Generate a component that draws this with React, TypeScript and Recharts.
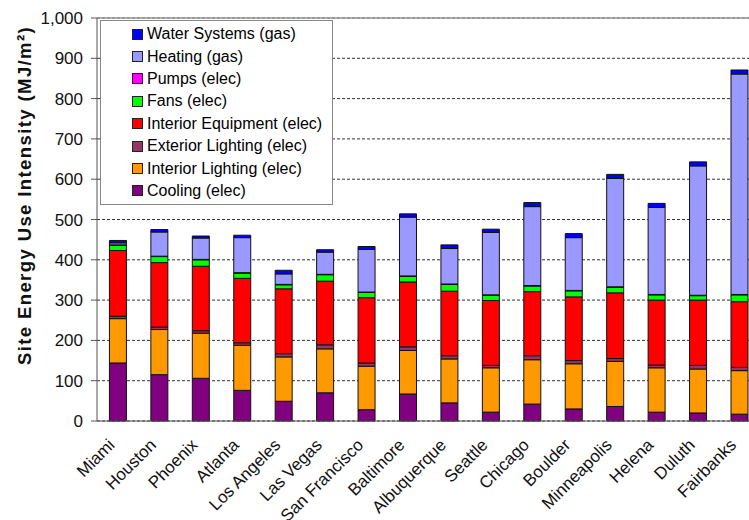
import { BarChart, Bar, XAxis, YAxis, CartesianGrid, ReferenceLine, Legend, Label } from 'recharts'

const cities = [
  'Miami', 'Houston', 'Phoenix', 'Atlanta', 'Los Angeles', 'Las Vegas', 'San Francisco', 'Baltimore',
  'Albuquerque', 'Seattle', 'Chicago', 'Boulder', 'Minneapolis', 'Helena', 'Duluth', 'Fairbanks',
]

// MJ/m2 per end use, stacked bottom to top
const cooling = [144, 115, 106, 76, 49, 70, 28, 67, 45, 22, 42, 30, 36, 22, 20, 17]
const interiorLighting = [110, 112, 112, 112, 110, 109, 108, 108, 109, 110, 110, 112, 112, 110, 109, 108]
const exteriorLighting = [6, 6, 6, 6, 8, 10, 8, 9, 8, 6, 10, 8, 7, 7, 9, 8]
const interiorEquipment = [163, 160, 160, 160, 161, 158, 162, 161, 160, 161, 159, 158, 163, 161, 162, 163]
const fans = [13, 15, 16, 13, 10, 16, 13, 14, 17, 13, 14, 15, 14, 13, 11, 17]
const pumps = [1, 1, 1, 1, 1, 1, 1, 1, 1, 1, 1, 1, 1, 1, 1, 1]
const heating = [5, 60, 53, 87, 26, 55, 106, 146, 88, 155, 196, 131, 269, 216, 321, 547]
const waterSystems = [6, 6, 5, 6, 9, 6, 7, 8, 9, 8, 10, 10, 10, 10, 10, 10]

const yTicks = [0, 100, 200, 300, 400, 500, 600, 700, 800, 900, 1000]

const series = [
  { key: 'cooling', name: 'Cooling (elec)', color: '#800080', values: cooling },
  { key: 'interiorLighting', name: 'Interior Lighting (elec)', color: '#FF9900', values: interiorLighting },
  { key: 'exteriorLighting', name: 'Exterior Lighting (elec)', color: '#993366', values: exteriorLighting },
  { key: 'interiorEquipment', name: 'Interior Equipment (elec)', color: '#FF0000', values: interiorEquipment },
  { key: 'fans', name: 'Fans (elec)', color: '#00FF00', values: fans },
  { key: 'pumps', name: 'Pumps (elec)', color: '#FF00FF', values: pumps },
  { key: 'heating', name: 'Heating (gas)', color: '#9999FF', values: heating },
  { key: 'waterSystems', name: 'Water Systems (gas)', color: '#0000FF', values: waterSystems },
]

const data = cities.map((city, i) => {
  const row: Record<string, string | number> = { city }
  series.forEach((s) => {
    row[s.key] = s.values[i]
  })
  return row
})

const font = '"Liberation Sans", Arial, sans-serif'

function CityTick({ x, y, payload }: any) {
  return (
    <g transform={`translate(${x - 2},${y + 17})`}>
      <text textAnchor="end" transform="rotate(-45)" fontSize={17} fill="#111" fontFamily={font}>
        {payload.value}
      </text>
    </g>
  )
}

function YTitle({ viewBox }: any) {
  const cx = 24
  const cy = viewBox.y + viewBox.height / 2 - 24
  return (
    <text
      x={cx}
      y={cy}
      transform={`rotate(-90, ${cx}, ${cy})`}
      textAnchor="middle"
      dominantBaseline="central"
      fontSize={18.5}
      fontWeight="bold"
      fill="#111"
      fontFamily={font}
      style={{ letterSpacing: 1.4 }}
    >
      Site Energy Use Intensity (MJ/m²)
    </text>
  )
}

function LegendBox() {
  return (
    <div
      style={{
        boxSizing: 'border-box',
        width: 233,
        height: 185,
        border: '1px solid #888',
        background: '#fff',
        padding: '2px 0 0 31px',
        fontFamily: font,
        fontSize: 16,
        color: '#000',
      }}
    >
      {[...series].reverse().map((s) => (
        <div key={s.key} style={{ height: 22.4, display: 'flex', alignItems: 'center' }}>
          <span
            style={{
              display: 'inline-block',
              boxSizing: 'border-box',
              width: 11,
              height: 11,
              background: s.color,
              border: '1px solid #222',
              marginRight: 4,
            }}
          />
          <span>{s.name}</span>
        </div>
      ))}
    </div>
  )
}

export default function App() {
  return (
    <div style={{ position: 'absolute', left: 0, top: 0, width: 749, height: 520, overflow: 'hidden', background: '#fff' }}>
      <BarChart
        width={770}
        height={520}
        data={data}
        margin={{ top: 18, right: 10, bottom: 0, left: 0 }}
        barCategoryGap="30%"
      >
        <CartesianGrid vertical={false} stroke="#333" strokeDasharray="3 2" />
        <XAxis
          dataKey="city"
          interval={0}
          tickLine={false}
          height={99}
          tick={<CityTick />}
          axisLine={{ stroke: '#555' }}
        />
        <YAxis
          domain={[0, 1000]}
          ticks={yTicks}
          width={97}
          tickSize={6}
          tickMargin={8}
          tickFormatter={(v: number) => v.toLocaleString('en-US')}
          tick={{ fontSize: 17, fill: '#111', fontFamily: font }}
          axisLine={{ stroke: '#555' }}
          tickLine={{ stroke: '#555' }}
        >
          <Label content={<YTitle />} />
        </YAxis>
        <ReferenceLine y={1000} stroke="#999" strokeWidth={1.5} />
        {series.map((s) => (
          <Bar
            key={s.key}
            dataKey={s.key}
            name={s.name}
            stackId="eui"
            fill={s.color}
            stroke="#111"
            strokeWidth={1}
            isAnimationActive={false}
          />
        ))}
        <Legend
          layout="horizontal"
          align="center"
          verticalAlign="middle"
          wrapperStyle={{ left: 100, top: 20, width: 233, height: 185 }}
          content={<LegendBox />}
        />
      </BarChart>
    </div>
  )
}
